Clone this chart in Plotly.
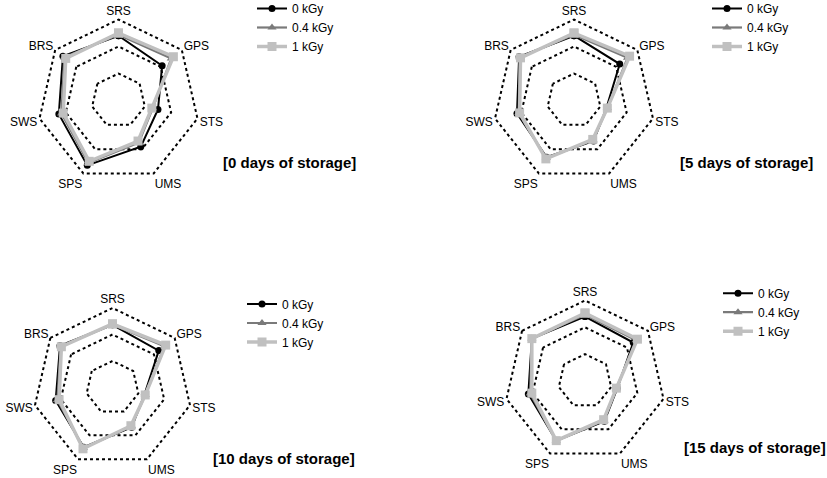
import plotly.graph_objects as go

categories = ["SRS", "GPS", "STS", "UMS", "SPS", "SWS", "BRS"]
doses = ["0 kGy", "0.4 kGy", "1 kGy"]
panel_titles = ["[0 days of storage]", "[5 days of storage]",
                "[10 days of storage]", "[15 days of storage]"]

day0_0kgy = [7.2, 6.2, 4.5, 5.7, 8.0, 6.8, 7.9]
day0_04kgy = [7.3, 7.5, 3.9, 5.2, 7.7, 6.5, 7.7]
day0_1kgy = [7.5, 7.8, 3.8, 5.0, 7.5, 6.3, 7.5]

day5_0kgy = [7.2, 6.5, 3.7, 5.0, 7.0, 6.5, 7.8]
day5_04kgy = [7.3, 7.6, 3.8, 4.9, 7.1, 6.3, 7.7]
day5_1kgy = [7.5, 7.9, 3.8, 4.8, 7.2, 6.2, 7.6]

day10_0kgy = [7.1, 6.7, 3.7, 5.0, 7.5, 6.6, 7.6]
day10_04kgy = [7.1, 7.5, 3.8, 4.9, 7.6, 6.4, 7.5]
day10_1kgy = [7.2, 7.7, 3.8, 4.8, 7.7, 6.2, 7.4]

day15_0kgy = [7.2, 6.9, 3.7, 5.0, 7.4, 6.5, 7.6]
day15_04kgy = [7.4, 7.3, 3.6, 4.9, 7.4, 6.3, 7.6]
day15_1kgy = [7.6, 7.5, 3.6, 4.8, 7.4, 6.1, 7.6]

radial_ticks = [3, 6, 9]
radial_max = 9.2

panels = [
    [day0_0kgy, day0_04kgy, day0_1kgy],
    [day5_0kgy, day5_04kgy, day5_1kgy],
    [day10_0kgy, day10_04kgy, day10_1kgy],
    [day15_0kgy, day15_04kgy, day15_1kgy],
]

W, H = 827, 478
# target positions: (center x, center y, radius of outer ring) in pixels
geom = [(118.5, 100.5, 81), (574, 100.5, 81), (112.5, 387.5, 79.5), (585, 381, 80.5)]
# legend: (x of text start, y of first entry centre)
legend_pos = [(282, 8), (737, 8), (272, 303.5), (748, 292.7)]
title_pos = [(289, 163), (746, 163), (284, 458), (755, 447)]

styles = [
    dict(color="#000000", symbol="circle", size=7, width=2),
    dict(color="#7a7a7a", symbol="triangle-up", size=8, width=2.2),
    dict(color="#c0c0c0", symbol="square", size=9, width=3.5),
]

fig = go.Figure()
layout = dict(width=W, height=H,
              margin=dict(l=0, r=0, t=0, b=0, pad=0, autoexpand=False),
              paper_bgcolor="white", plot_bgcolor="white",
              font=dict(family="Liberation Sans, Arial", color="#000000", size=12),
              showlegend=True, annotations=[])

for i, series in enumerate(panels):
    pid = "polar" if i == 0 else f"polar{i+1}"
    lid = "legend" if i == 0 else f"legend{i+1}"
    for name, vals, st in zip(doses, series, styles):
        fig.add_trace(go.Scatterpolar(
            r=vals + vals[:1], theta=categories + categories[:1],
            mode="lines+markers", name=name, subplot=pid, legend=lid,
            line=dict(color=st["color"], width=st["width"]),
            marker=dict(color=st["color"], symbol=st["symbol"], size=st["size"]),
            cliponaxis=False,
        ))
    cx, cy, R = geom[i]
    Rd = R * radial_max / 9
    layout[pid] = dict(
        domain=dict(x=[(cx - Rd) / W, (cx + Rd) / W],
                    y=[1 - (cy + Rd) / H, 1 - (cy - Rd) / H]),
        gridshape="linear", bgcolor="white",
        radialaxis=dict(range=[0, radial_max], tickvals=radial_ticks,
                        showticklabels=False, ticks="", showline=False,
                        gridcolor="#000000", griddash="dot", gridwidth=1.5),
        angularaxis=dict(rotation=90, direction="clockwise", showgrid=False,
                         showline=False, ticks="", ticklen=0,
                         tickfont=dict(size=12, color="#000000")),
    )
    tx_start, first_c = legend_pos[i]
    lx = tx_start - 30
    ly = first_c - 14
    layout[lid] = dict(x=lx / W, y=1 - ly / H, xanchor="left", yanchor="top",
                       font=dict(size=12, color="#000000"), bgcolor="rgba(0,0,0,0)",
                       itemwidth=30, tracegroupgap=0)
    tx, ty = title_pos[i]
    layout["annotations"].append(dict(
        text=f"<b>{panel_titles[i]}</b>", x=tx / W, y=1 - ty / H,
        xref="paper", yref="paper", xanchor="center", yanchor="middle",
        showarrow=False, font=dict(size=15, color="#000000")))

fig.update_layout(**layout)
fig.write_html("out.html", config={"displayModeBar": False},
               post_script="document.body.style.margin='0px';document.body.style.overflow='hidden';")
